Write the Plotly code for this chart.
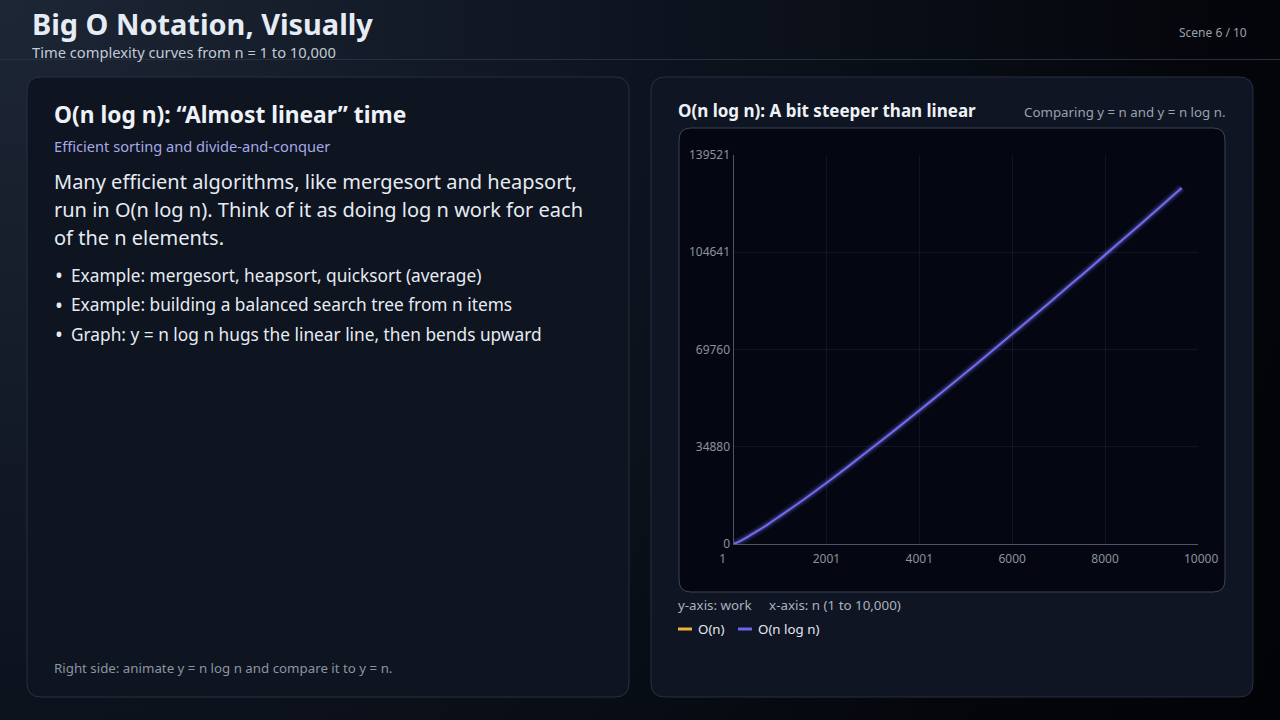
import base64
import plotly.graph_objects as go

W, H = 1280, 720

# ---------------- data ----------------
n_values = [1, 100, 250, 500, 750, 1000, 1500, 2000, 2500, 3000, 3500, 4000, 4500, 5000,
            5500, 6000, 6500, 7000, 7500, 8000, 8500, 9000, 9500, 9650]
nlogn_values = [0, 660, 2000, 4500, 7150, 10000, 15800, 21900, 28200, 34700, 41200,
                47900, 54600, 61400, 68300, 75300, 82300, 89400, 96500, 103700,
                110900, 118200, 125500, 127700]
x_tick_values = [1, 2001, 4001, 6000, 8000, 10000]
x_tick_labels = ["1", "2001", "4001", "6000", "8000", "10000"]
y_tick_values = [0, 34880, 69760, 104641, 139521]
y_tick_labels = ["0", "34880", "69760", "104641", "139521"]
legend_names = ["O(n)", "O(n log n)"]
legend_colors = ["#e8b43a", "#6d66ea"]

FONT = "Noto Sans"


def px(x):
    return x / W


def py(y):
    return 1 - y / H


def rrect(x0, y0, x1, y1, r):
    """Rounded rectangle path in paper coordinates, given pixel coords."""
    pts = [
        f"M {px(x0 + r)},{py(y0)}",
        f"L {px(x1 - r)},{py(y0)}",
        f"Q {px(x1)},{py(y0)} {px(x1)},{py(y0 + r)}",
        f"L {px(x1)},{py(y1 - r)}",
        f"Q {px(x1)},{py(y1)} {px(x1 - r)},{py(y1)}",
        f"L {px(x0 + r)},{py(y1)}",
        f"Q {px(x0)},{py(y1)} {px(x0)},{py(y1 - r)}",
        f"L {px(x0)},{py(y0 + r)}",
        f"Q {px(x0)},{py(y0)} {px(x0 + r)},{py(y0)}",
        "Z",
    ]
    return " ".join(pts)


# background gradient as an inline svg image
svg = f"""<svg xmlns='http://www.w3.org/2000/svg' width='{W}' height='{H}'>
<defs><radialGradient id='g' cx='0' cy='0' r='1500' gradientUnits='userSpaceOnUse'>
<stop offset='0' stop-color='#1d2635'/>
<stop offset='0.45' stop-color='#0d131e'/>
<stop offset='0.8' stop-color='#04060b'/>
<stop offset='1' stop-color='#020306'/>
</radialGradient></defs>
<rect width='{W}' height='{H}' fill='url(#g)'/></svg>"""
bg_src = "data:image/svg+xml;base64," + base64.b64encode(svg.encode()).decode()

fig = go.Figure()

# glow + main line
fig.add_trace(go.Scatter(x=n_values, y=nlogn_values, mode="lines",
                         line=dict(color="rgba(109,102,234,0.12)", width=9, shape="spline", smoothing=0.5),
                         hoverinfo="skip", showlegend=False))
fig.add_trace(go.Scatter(x=n_values, y=nlogn_values, mode="lines",
                         line=dict(color="rgba(109,102,234,0.25)", width=5, shape="spline", smoothing=0.5),
                         hoverinfo="skip", showlegend=False))
fig.add_trace(go.Scatter(x=n_values, y=nlogn_values, mode="lines",
                         line=dict(color="#736cf0", width=2, shape="spline", smoothing=0.5),
                         name=legend_names[1], showlegend=False))

shapes = []
# header divider
shapes.append(dict(type="line", xref="paper", yref="paper", x0=0, x1=1,
                   y0=py(59.5), y1=py(59.5), line=dict(color="#253040", width=1),
                   layer="below"))
# left panel
shapes.append(dict(type="path", xref="paper", yref="paper",
                   path=rrect(27, 77, 629, 697, 14),
                   fillcolor="#0e1420", line=dict(color="#263142", width=1),
                   layer="below"))
# right panel
shapes.append(dict(type="path", xref="paper", yref="paper",
                   path=rrect(651, 77, 1253, 697, 14),
                   fillcolor="#0f1523", line=dict(color="#263142", width=1),
                   layer="below"))
# chart card
shapes.append(dict(type="path", xref="paper", yref="paper",
                   path=rrect(679, 128, 1225, 592, 12),
                   fillcolor="#040712", line=dict(color="#3a4456", width=1),
                   layer="below"))
# legend glyphs
for i, (name, col) in enumerate(zip(legend_names, legend_colors)):
    x0 = [678, 738][i]
    shapes.append(dict(type="line", xref="paper", yref="paper",
                       x0=px(x0), x1=px(x0 + 14), y0=py(629), y1=py(629),
                       line=dict(color=col, width=3)))

annotations = []


def txt(x, y, text, size, color, bold=False, anchor="left"):
    annotations.append(dict(
        x=px(x), y=py(y), xref="paper", yref="paper",
        text=(f"<b>{text}</b>" if bold else text), showarrow=False,
        xanchor=anchor, yanchor="middle",
        font=dict(family=FONT, size=size, color=color)))


# header
txt(30, 24, "Big O Notation, Visually", 28.9, "#e6ecf4", bold=True)
txt(30, 52, "Time complexity curves from n = 1 to 10,000", 14.7, "#c3cad5")
txt(1249, 33, "Scene 6 / 10", 12, "#9aa2ad", anchor="right")

# left panel
txt(52, 114, "O(n log n): “Almost linear” time", 22.75, "#eef2f7", bold=True)
txt(52, 146, "Efficient sorting and divide-and-conquer", 14.65, "#a6a9e6")
body = ["Many efficient algorithms, like mergesort and heapsort,",
        "run in O(n log n). Think of it as doing log n work for each",
        "of the n elements."]
for i, line in enumerate(body):
    txt(52, 181.5 + 28 * i, line, 20, "#e6ebf2")
bullets = ["Example: mergesort, heapsort, quicksort (average)",
           "Example: building a balanced search tree from n items",
           "Graph: y = n log n hugs the linear line, then bends upward"]
for i, line in enumerate(bullets):
    yy = 275 + 29.6 * i
    txt(53, yy, "•", 21, "#e6ebf2")
    txt(69, yy, line, 17.3, "#e6ebf2")
txt(52, 667.5, "Right side: animate y = n log n and compare it to y = n.", 13.3, "#8b94a2")

# right panel
txt(676, 110.5, "O(n log n): A bit steeper than linear", 17, "#eef2f7", bold=True)
txt(1227, 111.5, "Comparing y = n and y = n log n.", 13.3, "#9aa2ad", anchor="right")
txt(676, 604.5, "y-axis: work&nbsp;&nbsp;&nbsp;&nbsp;&nbsp;x-axis: n (1 to 10,000)", 13.35, "#aab2bd")
for i, name in enumerate(legend_names):
    txt([696, 756][i], 628.5, name, 13.3, "#e3e8ef")

# edge tick labels are nudged outward in the reference
x_text = list(x_tick_labels)
x_text[0] = x_text[0] + "&nbsp;" * 7
x_text[-1] = "&nbsp;&nbsp;" + x_text[-1]

fig.update_layout(
    width=W, height=H, autosize=False,
    margin=dict(l=0, r=0, t=0, b=0, pad=0, autoexpand=False),
    paper_bgcolor="#070a11", plot_bgcolor="rgba(0,0,0,0)",
    showlegend=False,
    images=[dict(source=bg_src, xref="paper", yref="paper", x=0, y=1,
                 sizex=1, sizey=1, sizing="stretch", layer="below",
                 xanchor="left", yanchor="top")],
    shapes=shapes, annotations=annotations,
    xaxis=dict(domain=[px(733.5), px(1198)], range=[1, 10000],
               tickvals=x_tick_values, ticktext=x_text, automargin=False,
               showgrid=True, gridcolor="rgba(148,163,184,0.09)", gridwidth=1,
               zeroline=False, showline=True, linecolor="#4d5566", linewidth=1,
               ticks="", ticklabelstandoff=4,
               tickfont=dict(family=FONT, size=12, color="#8a929e"),
               fixedrange=True),
    yaxis=dict(domain=[py(544), py(155)], range=[0, 139521],
               tickvals=y_tick_values, ticktext=y_tick_labels, automargin=False,
               showgrid=True, gridcolor="rgba(148,163,184,0.09)", gridwidth=1,
               zeroline=False, showline=True, linecolor="#4d5566", linewidth=1,
               ticks="", tickfont=dict(family=FONT, size=12, color="#8a929e"),
               fixedrange=True),
)

fig.write_html(
    "out.html",
    post_script="document.body.style.margin='0';document.body.style.overflow='hidden';",
)
